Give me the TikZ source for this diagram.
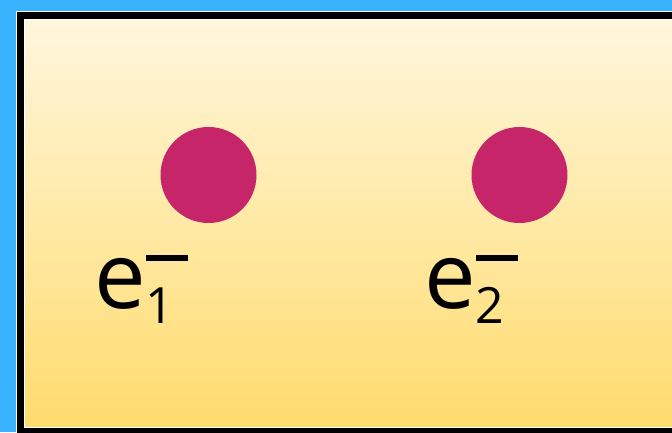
\documentclass[tikz,border=0pt]{standalone}
\usepackage{fontspec}
\setmainfont{Open Sans}
\definecolor{skyblue}{RGB}{58,179,255}
\definecolor{creamtop}{RGB}{255,247,222}
\definecolor{creambot}{RGB}{255,219,108}
\definecolor{electroncol}{RGB}{199,37,106}
% electron label: big e, small index below, bar above
\newcommand{\elabel}[1]{e\rlap{\raisebox{-15pt}{\fontsize{50}{50}\selectfont #1}}\raisebox{47pt}{\rule{42pt}{6pt}}}
\begin{document}
\begin{tikzpicture}[x=1pt,y=-1pt,
    electron/.style={circle,fill=electroncol,minimum size=96pt,inner sep=0pt},
    elabelnode/.style={anchor=base west,inner sep=0pt,font=\fontsize{92}{92}\selectfont}]
    \useasboundingbox (0,0) rectangle (672,432);
    \clip (0,0) rectangle (672,432);

    % Background
    \fill[skyblue] (0,0) rectangle (672,432);

    % Box with gradient fill and thick frame
    \shade[top color=creamtop,bottom color=creambot] (20.5,15.5) rectangle (700,431.5);
    \draw[white,line width=9pt] (20.5,15.5) rectangle (700,431.5);
    \draw[black,line width=7pt] (20.5,15.5) rectangle (700,431.5);

    % Two electrons
    \node[electron] (e1) at (208.5,175) {};
    \node[electron] (e2) at (519.5,175) {};

    % Labels
    \node[elabelnode] (l1) at (94,308) {\elabel{1}};
    \node[elabelnode] (l2) at (424,308) {\elabel{2}};
\end{tikzpicture}
\end{document}
